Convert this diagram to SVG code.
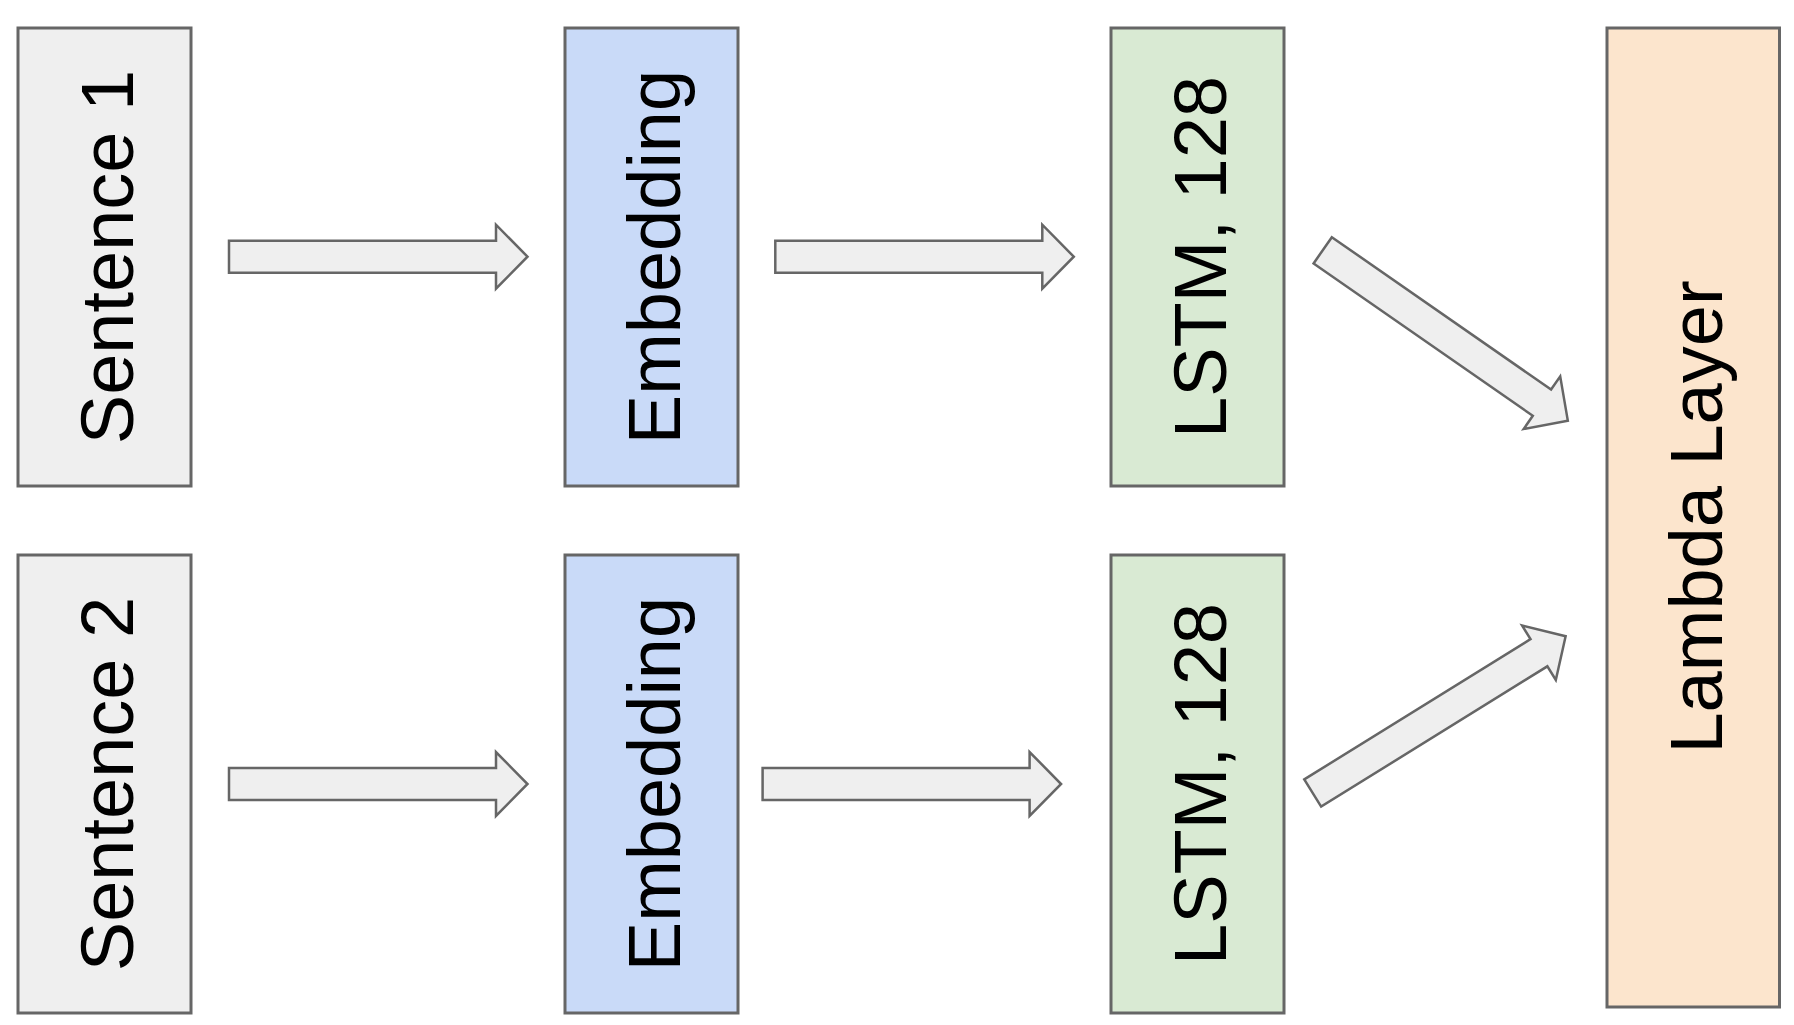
<svg xmlns="http://www.w3.org/2000/svg" width="1794" height="1025" viewBox="0 0 1794 1025">
<style>
.box{stroke:#666666;stroke-width:3}
.s{fill:#efefef}
.e{fill:#c9daf8}
.l{fill:#d9ead3}
.lam{fill:#fce5cd}
.t{font-family:"Liberation Sans",Arial,sans-serif;font-size:74px;fill:#000000;text-anchor:middle}
.arr{fill:#efefef;stroke:#666666;stroke-width:2.5;stroke-linejoin:miter}
</style>
<defs>
<path id="ar" d="M0,-16 L267,-16 L267,-32 L298.5,0 L267,32 L267,16 L0,16 Z"/>
</defs>
<rect width="1794" height="1025" fill="#ffffff"/>
<g id="sentence1"><rect class="box s" x="18" y="28" width="173" height="458"/><text class="t" transform="translate(133,257) rotate(-90)">Sentence 1</text></g>
<g id="embedding1"><rect class="box e" x="565" y="28" width="173" height="458"/><text class="t" transform="translate(680,257) rotate(-90)">Embedding</text></g>
<g id="lstm1"><rect class="box l" x="1111" y="28" width="173" height="458"/><text class="t" transform="translate(1226,257) rotate(-90)">LSTM, 128</text></g>
<g id="sentence2"><rect class="box s" x="18" y="555" width="173" height="458"/><text class="t" transform="translate(133,784) rotate(-90)">Sentence 2</text></g>
<g id="embedding2"><rect class="box e" x="565" y="555" width="173" height="458"/><text class="t" transform="translate(680,784) rotate(-90)">Embedding</text></g>
<g id="lstm2"><rect class="box l" x="1111" y="555" width="173" height="458"/><text class="t" transform="translate(1226,784) rotate(-90)">LSTM, 128</text></g>
<g id="lambda"><rect class="box lam" x="1607" y="28" width="172.5" height="979"/><text class="t" transform="translate(1721.5,517) rotate(-90)">Lambda Layer</text></g>
<g id="connectors">
<use href="#ar" class="arr" transform="translate(229,256.7)"/>
<use href="#ar" class="arr" transform="translate(775.3,256.7)"/>
<use href="#ar" class="arr" transform="translate(229,784)"/>
<use href="#ar" class="arr" transform="translate(762.6,784)"/>
<use href="#ar" class="arr" transform="translate(1322.7,250.3) rotate(34.8)"/>
<use href="#ar" class="arr" transform="translate(1312.7,793) rotate(-31.8) scale(0.997,1)"/>
</g>
</svg>
